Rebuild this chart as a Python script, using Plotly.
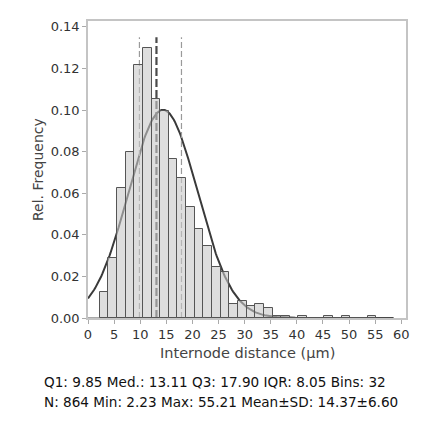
import numpy as np
import plotly.graph_objects as go

# summary statistics shown under the chart
n_total = 864
x_min = 2.23
x_max = 55.21
n_bins = 32
q1, median, q3 = 9.85, 13.11, 17.90
mean, sd = 14.37, 6.60

# counts per bin
bin_counts = [11, 25, 54, 69, 105, 112, 91, 86, 66, 58, 46, 37, 30, 21, 19, 6,
              7, 5, 6, 4, 1, 1, 0, 1, 0, 0, 1, 0, 1, 0, 0, 1]

x_ticks = list(range(0, 61, 5))
y_ticks = [0, 0.02, 0.04, 0.06, 0.08, 0.10, 0.12, 0.14]

FONT = "DejaVu Sans"

bin_w = (x_max - x_min) / n_bins
centers = [x_min + bin_w * (i + 0.5) for i in range(n_bins)]
rel_freq = [c / n_total for c in bin_counts]

# normal fit scaled to bin width
xs = np.linspace(0, 58.5, 300)
fit = bin_w * np.exp(-0.5 * ((xs - mean) / sd) ** 2) / (sd * np.sqrt(2 * np.pi))

fig = go.Figure()

# base layer: fit curve + quartile lines (sits under the translucent bars)
fig.add_trace(go.Scatter(x=xs, y=fit, mode="lines",
                         line=dict(color="#3a3a3a", width=2), hoverinfo="skip"))
for val, col, w, dash in [(q1, "#9a9a9a", 1.2, "6px,3px"),
                          (q3, "#9a9a9a", 1.2, "6px,3px"),
                          (median, "#4a4a4a", 2.2, "8px,3px")]:
    fig.add_trace(go.Scatter(x=[val, val], y=[0, 0.135], mode="lines",
                             line=dict(color=col, width=w, dash=dash), hoverinfo="skip"))

# overlay layer: histogram bars
fig.add_trace(go.Bar(x=centers, y=rel_freq, width=bin_w, xaxis="x2", yaxis="y2",
                     marker=dict(color="rgba(200,200,200,0.6)",
                                 line=dict(color="#555555", width=1))))
fig.add_trace(go.Scatter(x=[0, 58.5], y=[0, 0], mode="lines", xaxis="x2", yaxis="y2",
                         line=dict(color="#555555", width=1.2), hoverinfo="skip"))

x_range = [0, 60.9]
y_range = [0, 0.1428]

# page body has an 8px default margin, so the figure is a bit smaller
fig.update_layout(
    width=422, height=422,
    margin=dict(l=80, r=24, t=11, b=112),
    plot_bgcolor="white", paper_bgcolor="white",
    showlegend=False,
    font=dict(family=FONT, size=13, color="#333333"),
    xaxis=dict(range=x_range, tickvals=x_ticks, showgrid=False, zeroline=False,
               showline=True, mirror=True, linecolor="#c4c4c4", linewidth=1.5,
               ticks="outside", ticklen=4, tickcolor="#aaaaaa"),
    yaxis=dict(range=y_range, tickvals=y_ticks, tickformat=".2f", showgrid=False,
               zeroline=False, showline=True, mirror=True, linecolor="#c4c4c4",
               linewidth=1.5, ticks="outside", ticklen=4, tickcolor="#aaaaaa"),
    xaxis2=dict(range=x_range, overlaying="x", visible=False),
    yaxis2=dict(range=y_range, overlaying="y", visible=False),
    bargap=0,
)

ph = 299

def py(p):
    return (318.3 - p) / ph

annots = [
    dict(text="Internode distance (µm)", x=0.5, y=py(354), xanchor="center",
         font=dict(size=14.5, color="#444444")),
    dict(text="Rel. Frequency", x=(37.5 - 88) / 318, y=0.5, textangle=-90, xanchor="center",
         font=dict(size=14, color="#444444")),
    dict(text="Q1: 9.85 Med.: 13.11 Q3: 17.90 IQR: 8.05 Bins: 32",
         x=(42 - 88) / 318, y=py(382.7), xanchor="left",
         font=dict(color="#111111", size=13.6)),
    dict(text="N: 864 Min: 2.23 Max: 55.21 Mean±SD: 14.37±6.60",
         x=(42 - 88) / 318, y=py(402.7), xanchor="left",
         font=dict(color="#111111", size=13.6)),
]
for a in annots:
    fig.add_annotation(xref="paper", yref="paper", yanchor="middle", showarrow=False, **a)

fig.write_html("out.html")
